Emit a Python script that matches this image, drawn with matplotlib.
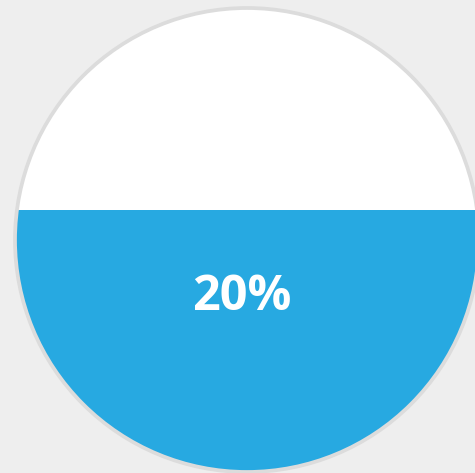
import matplotlib
matplotlib.use("Agg")
import matplotlib.pyplot as plt
from matplotlib.patches import Circle, Rectangle

# data
value_percent = 20
label_text = f"{value_percent}%"
fill_fraction = 0.565  # visible liquid level as fraction of diameter

W, H = 475, 473
fig = plt.figure(figsize=(W / 100, H / 100), dpi=100, facecolor="#eeeeee")
ax = fig.add_axes([0, 0, 1, 1])
ax.set_xlim(0, W)
ax.set_ylim(H, 0)
ax.axis("off")
ax.set_facecolor("#eeeeee")

cx, cy, r = 247, 240, 232
bg = Circle((cx, cy), r, facecolor="white", edgecolor="none", zorder=1)
ax.add_patch(bg)

level_y = cy + r - fill_fraction * 2 * r
clip = Circle((cx, cy), r, transform=ax.transData)
liquid = Rectangle((cx - r - 5, level_y), 2 * r + 10, (cy + r) - level_y + 5,
                   facecolor="#27a9e1", edgecolor="none", zorder=2)
ax.add_patch(liquid)
liquid.set_clip_path(clip)

border = Circle((cx, cy), r, facecolor="none", edgecolor="#dcdcdc",
                linewidth=2.7, zorder=3)
ax.add_patch(border)

ax.text(cx - 5, 297, label_text, color="white", fontsize=35, fontweight="bold",
        family=["Open Sans", "DejaVu Sans"], ha="center", va="center", zorder=4)

fig.savefig("out.png", dpi=100, facecolor="#eeeeee")
